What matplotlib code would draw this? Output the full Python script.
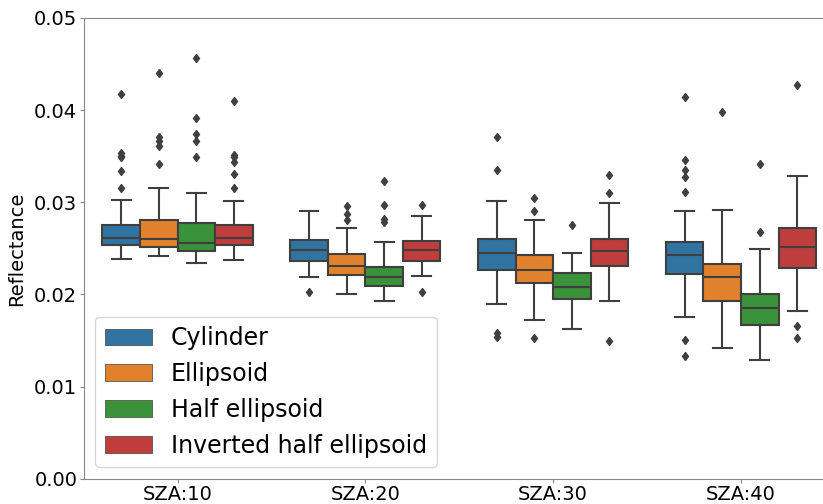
import numpy as np
import matplotlib
matplotlib.use('Agg')
import matplotlib.pyplot as plt
import seaborn as sns
from matplotlib.patches import Patch

# categories
sza = ['SZA:10', 'SZA:20', 'SZA:30', 'SZA:40']
shapes = ['Cylinder', 'Ellipsoid', 'Half ellipsoid', 'Inverted half ellipsoid']

# box statistics (one value per SZA)
cyl_q1 = [0.02533, 0.02364, 0.02270, 0.02227]
cyl_med = [0.02616, 0.02483, 0.02447, 0.02425]
cyl_q3 = [0.02754, 0.02587, 0.02602, 0.02573]
cyl_lo = [0.02386, 0.02187, 0.01899, 0.01755]
cyl_hi = [0.03020, 0.02901, 0.03016, 0.02901]
cyl_fl = [[0.04170, 0.03540, 0.03500, 0.03490, 0.03337, 0.03153],
          [0.02025],
          [0.03711, 0.03351, 0.01578, 0.01535],
          [0.04148, 0.03459, 0.03351, 0.03279, 0.03114, 0.01503, 0.01330]]

ell_q1 = [0.02516, 0.02213, 0.02126, 0.01932]
ell_med = [0.02598, 0.02306, 0.02266, 0.02191]
ell_q3 = [0.02811, 0.02440, 0.02429, 0.02328]
ell_lo = [0.02414, 0.02003, 0.01726, 0.01416]
ell_hi = [0.03157, 0.02721, 0.02803, 0.02912]
ell_fl = [[0.04404, 0.03705, 0.03669, 0.03614, 0.03420],
          [0.02959, 0.02872, 0.02811],
          [0.03052, 0.02908, 0.01524],
          [0.03978]]

half_q1 = [0.02472, 0.02090, 0.01946, 0.01672]
half_med = [0.02555, 0.02195, 0.02083, 0.01849]
half_q3 = [0.02775, 0.02303, 0.02234, 0.02003]
half_lo = [0.02342, 0.01924, 0.01629, 0.01290]
half_hi = [0.03106, 0.02566, 0.02454, 0.02490]
half_fl = [[0.04566, 0.03910, 0.03741, 0.03665, 0.03489],
           [0.03229, 0.02973, 0.02814, 0.02790],
           [0.02749],
           [0.03420, 0.02678]]

inv_q1 = [0.02533, 0.02360, 0.02314, 0.02292]
inv_med = [0.02616, 0.02479, 0.02476, 0.02511]
inv_q3 = [0.02749, 0.02580, 0.02605, 0.02717]
inv_lo = [0.02378, 0.02205, 0.01928, 0.01819]
inv_hi = [0.03012, 0.02851, 0.02995, 0.03290]
inv_fl = [[0.04101, 0.03514, 0.03490, 0.03441, 0.03311, 0.03153],
          [0.02973, 0.02022],
          [0.03297, 0.03106, 0.01495],
          [0.04274, 0.01654, 0.01532]]

allstats = [
    (cyl_q1, cyl_med, cyl_q3, cyl_lo, cyl_hi, cyl_fl),
    (ell_q1, ell_med, ell_q3, ell_lo, ell_hi, ell_fl),
    (half_q1, half_med, half_q3, half_lo, half_hi, half_fl),
    (inv_q1, inv_med, inv_q3, inv_lo, inv_hi, inv_fl),
]

colors = sns.color_palette('tab10', 4, desat=0.75)
gray = '#3f3f3f'

fig = plt.figure(figsize=(8.23, 5.04), dpi=100)
ax = fig.add_axes([0.1016, 0.05, 0.9128, 0.9143])

width = 0.2
for j, (q1, med, q3, lo, hi, fl) in enumerate(allstats):
    stats = []
    for i in range(len(sza)):
        stats.append(dict(q1=q1[i], med=med[i], q3=q3[i],
                          whislo=lo[i], whishi=hi[i], fliers=fl[i]))
    pos = np.arange(len(sza)) + (j - 1.5) * width
    ax.bxp(stats, positions=pos, widths=width, patch_artist=True,
           showfliers=True, manage_ticks=False,
           boxprops=dict(facecolor=colors[j], edgecolor=gray, linewidth=1.5),
           medianprops=dict(color=gray, linewidth=1.5),
           whiskerprops=dict(color=gray, linewidth=1.5),
           capprops=dict(color=gray, linewidth=1.5),
           flierprops=dict(marker='d', markersize=4.5, markerfacecolor=gray,
                           markeredgecolor=gray, linestyle='none'))

ax.set_xlim(-0.5, len(sza) - 0.5)
ax.set_ylim(0, 0.05)
ax.set_xticks(range(len(sza)))
ax.set_xticklabels(sza)
ax.set_yticks([0, 0.01, 0.02, 0.03, 0.04, 0.05])
ax.tick_params(labelsize=14, color='#888888', length=3, pad=1.5)
ax.set_ylabel('Reflectance', fontsize=14, labelpad=6)
for s in ax.spines.values():
    s.set_color('#888888')

handles = [Patch(facecolor=colors[j], edgecolor=gray, linewidth=0.5, label=shapes[j])
           for j in range(len(shapes))]
ax.legend(handles=handles, loc='lower left', fontsize=17)

fig.savefig('out.png', dpi=100)
